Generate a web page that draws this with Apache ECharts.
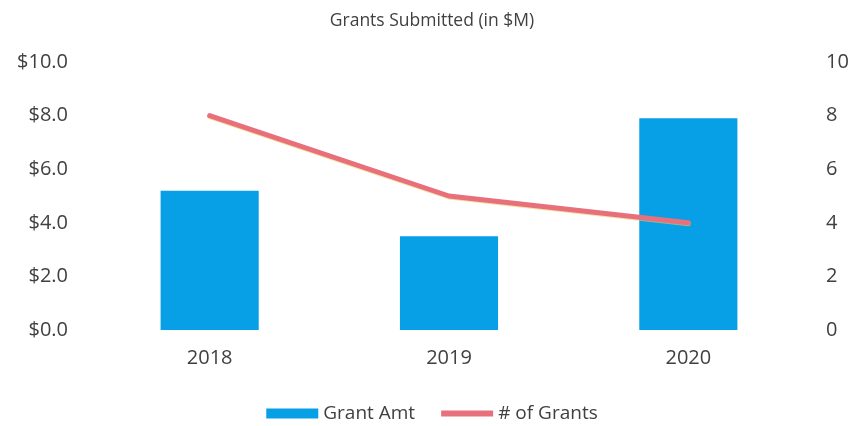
<!DOCTYPE html>
<html>
<head>
<meta charset="utf-8">
<script src="https://cdn.jsdelivr.net/npm/echarts@6/dist/echarts.min.js"></script>
<style>
html,body{margin:0;padding:0;background:#fff;}
#c{width:864px;height:426px;}
</style>
</head>
<body>
<div id="c"></div>
<script>
const categories = ['2018', '2019', '2020'];
const grantAmt = [5.2, 3.5, 7.9];
const numGrants = [8, 5, 4];
const leftTicks = ['$0.0', '$2.0', '$4.0', '$6.0', '$8.0', '$10.0'];

const font = '"Open Sans", "Liberation Sans", sans-serif';
const chart = echarts.init(document.getElementById('c'), null, {renderer: 'canvas'});
chart.setOption({
  backgroundColor: '#ffffff',
  animation: false,
  title: {
    text: 'Grants Submitted (in $M)',
    left: 'center',
    top: 7,
    textStyle: {fontFamily: font, fontSize: 17.5, fontWeight: 'normal', color: '#404040'}
  },
  legend: {
    top: 399,
    left: 'center',
    itemGap: 26,
    itemWidth: 52,
    itemHeight: 10,
    textStyle: {fontFamily: font, fontSize: 19, color: '#404040', padding: [0, 0, 0, 0]},
    data: [
      {name: 'Grant Amt', icon: 'rect'},
      {name: '# of Grants', icon: 'path://M0,0 H52 V6 H0 Z'}
    ]
  },
  grid: {left: 90, right: 56, top: 62, bottom: 96, containLabel: false},
  xAxis: {
    type: 'category',
    data: categories,
    axisLine: {show: false},
    axisTick: {show: false},
    axisLabel: {fontFamily: font, fontSize: 20, color: '#404040', margin: 18}
  },
  yAxis: [
    {
      type: 'value', min: 0, max: 10, interval: 2,
      splitLine: {show: false},
      axisLine: {show: false}, axisTick: {show: false},
      axisLabel: {
        fontFamily: font, fontSize: 20, color: '#404040', margin: 22,
        formatter: v => leftTicks[Math.round(v / 2)]
      }
    },
    {
      type: 'value', min: 0, max: 10, interval: 2,
      position: 'right',
      splitLine: {show: false},
      axisLine: {show: false}, axisTick: {show: false},
      axisLabel: {fontFamily: font, fontSize: 20, color: '#404040', margin: 18}
    }
  ],
  series: [
    {
      name: 'Grant Amt',
      type: 'bar',
      data: grantAmt,
      barWidth: '41%',
      itemStyle: {color: '#079fe6'},
      yAxisIndex: 0
    },
    {
      name: '# of Grants',
      type: 'line',
      data: numGrants,
      yAxisIndex: 1,
      symbol: 'none',
      lineStyle: {color: '#e8707c', width: 5, cap: 'round', join: 'round',
        shadowColor: 'rgba(240,200,90,0.6)', shadowBlur: 0, shadowOffsetY: 1},
      itemStyle: {color: '#e8707c'}
    }
  ]
});
</script>
</body>
</html>
